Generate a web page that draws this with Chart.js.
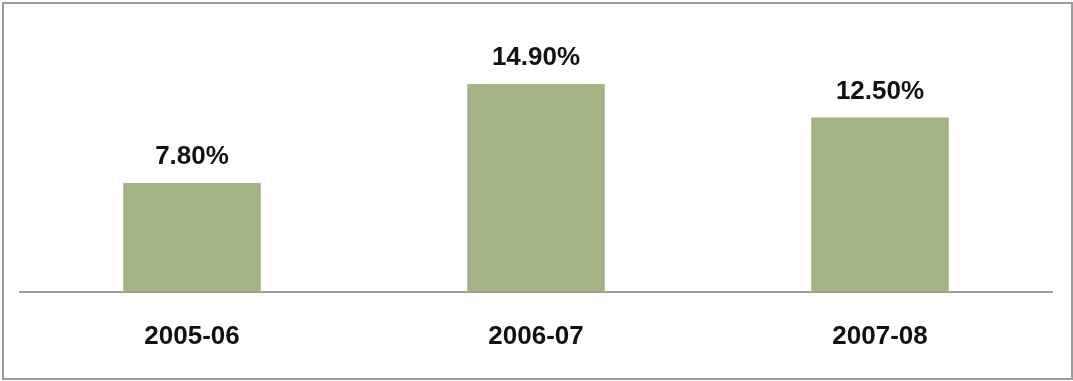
<!DOCTYPE html>
<html>
<head>
<meta charset="utf-8">
<script src="https://cdn.jsdelivr.net/npm/chart.js@4/dist/chart.umd.min.js"></script>
<style>
    html, body { margin: 0; padding: 0; background: #fff; }
    #wrap { position: relative; width: 1073px; height: 381px; }
    #frame {
        position: absolute; left: 2px; top: 2px; width: 1067px; height: 374px;
        border: 2px solid #9c9c9c; pointer-events: none;
    }
</style>
</head>
<body>
<div id="wrap">
    <canvas id="growthChart" width="1073" height="381"></canvas>
    <div id="frame"></div>
</div>
<script>
// Yearly growth figures
const years = ["2005-06", "2006-07", "2007-08"];
const growth = [7.8, 14.9, 12.5];
const valueLabels = ["7.80%", "14.90%", "12.50%"];

const labelFont = { family: "'Liberation Sans', Arial, sans-serif", size: 26, weight: "bold" };

// Print the percentage above each bar
const barValues = {
    id: "barValues",
    afterDatasetsDraw(chart) {
        const ctx = chart.ctx;
        const bars = chart.getDatasetMeta(0).data;
        ctx.save();
        ctx.font = "bold 26px " + labelFont.family;
        ctx.fillStyle = "#111";
        ctx.textAlign = "center";
        ctx.textBaseline = "alphabetic";
        bars.forEach((bar, i) => {
            ctx.fillText(valueLabels[i], bar.x, bar.y - 19);
        });
        ctx.restore();
    }
};

const ctx = document.getElementById("growthChart").getContext("2d");
new Chart(ctx, {
    type: "bar",
    data: {
        labels: years,
        datasets: [{
            data: growth,
            backgroundColor: "#a4b487",
            borderWidth: 0,
            barPercentage: 0.4,
            categoryPercentage: 1
        }]
    },
    options: {
        responsive: false,
        animation: false,
        layout: { padding: { left: 20, right: 21, top: 13, bottom: 0 } },
        plugins: {
            legend: { display: false },
            tooltip: { enabled: false }
        },
        scales: {
            x: {
                grid: { display: false, drawTicks: false },
                border: { display: true, color: "#9c9c9c", width: 2 },
                ticks: { color: "#111", font: labelFont, padding: 29 }
            },
            y: {
                display: false,
                min: 0,
                max: 20
            }
        }
    },
    plugins: [barValues]
});
</script>
</body>
</html>
